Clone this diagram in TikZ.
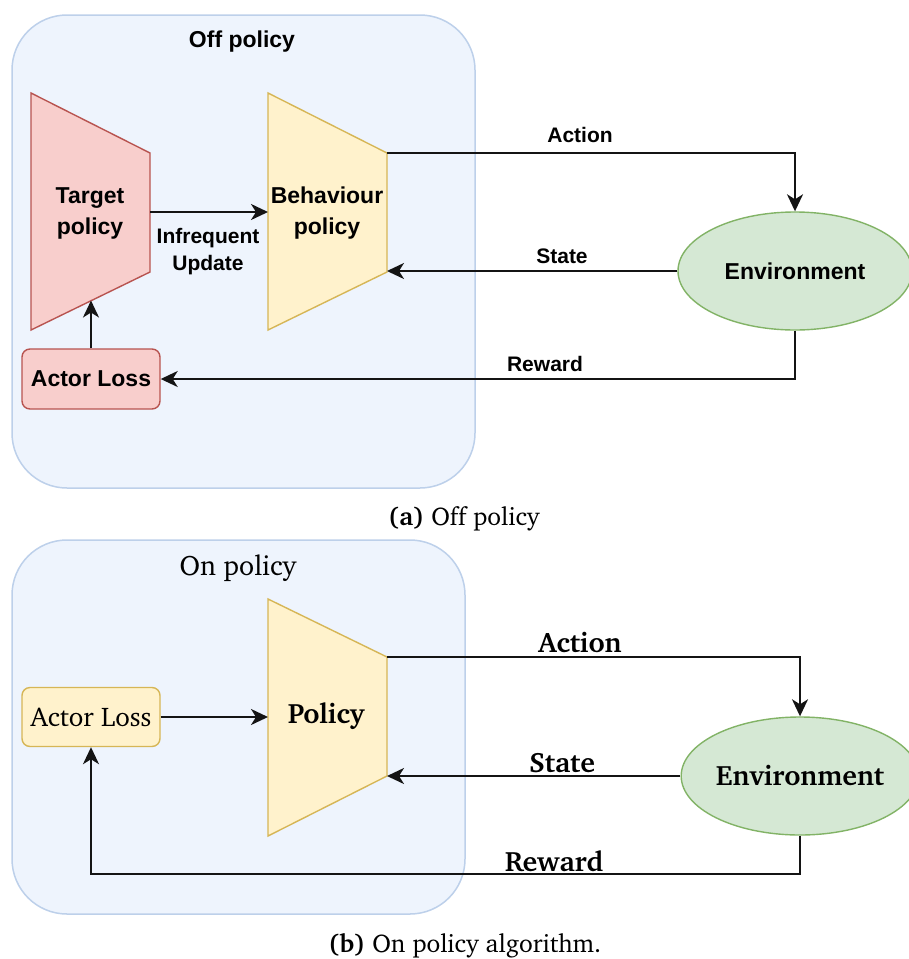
\documentclass[tikz,border=0pt]{standalone}
\usepackage[T1]{fontenc}
\usepackage{fontspec}
\newfontfamily\helv{Liberation Sans}
\newcommand\chr{\fontencoding{T1}\fontfamily{bch}\selectfont}
\usetikzlibrary{shapes.geometric,arrows.meta,calc}

\definecolor{grpfill}{HTML}{EEF4FD}
\definecolor{grpline}{HTML}{BDD0EA}
\definecolor{redfill}{HTML}{F8CECC}
\definecolor{redline}{HTML}{B85450}
\definecolor{yelfill}{HTML}{FFF2CC}
\definecolor{yelline}{HTML}{D6B656}
\definecolor{grnfill}{HTML}{D5E8D4}
\definecolor{grnline}{HTML}{82B366}
\definecolor{wire}{HTML}{141414}

\tikzset{
  group/.style={draw=grpline, fill=grpfill, line width=1.5pt, rounded corners=55pt, inner sep=0pt},
  redshape/.style={draw=redline, fill=redfill, line width=1.4pt},
  yelshape/.style={draw=yelline, fill=yelfill, line width=1.4pt},
  lossbox/.style={rectangle, rounded corners=8pt, minimum width=138pt, line width=1.4pt, inner sep=0pt},
  envnode/.style={ellipse, draw=grnline, fill=grnfill, line width=1.4pt, minimum width=234pt, minimum height=118pt, inner sep=0pt},
  wirestyle/.style={draw=wire, line width=2.1pt, -{Stealth[length=17pt,width=16pt,inset=5pt]}},
  sansbig/.style={font=\helv\bfseries\fontsize{23}{31}\selectfont, align=center, inner sep=0pt},
  sanssmall/.style={font=\helv\bfseries\fontsize{21}{27}\selectfont, align=center, inner sep=0pt},
  serifbold/.style={font=\chr\bfseries\fontsize{28}{32}\selectfont, inner sep=0pt},
  serifreg/.style={font=\chr\fontsize{28}{32}\selectfont, inner sep=0pt},
  captext/.style={font=\chr\fontsize{25.5}{30}\selectfont, inner sep=0pt},
}

\begin{document}
\begin{tikzpicture}[x=1pt, y=-1pt]
\useasboundingbox (0,0) rectangle (909,959);

% ---------------- (a) off-policy ----------------
\node[group, minimum width=463pt, minimum height=473pt] (offgrp) at (243.5,251.5) {};
\node[sansbig] (offtitle) at (242,42) {Off policy};

% target policy trapezoid
\coordinate (tp-nw) at (31,93);
\coordinate (tp-sw) at (31,330);
\coordinate (tp-ne) at (150,153);
\coordinate (tp-se) at (150,272);
\coordinate (tp-e) at (150,212);
\coordinate (tp-s) at (91,300.5);
\draw[redshape] (tp-nw) -- (tp-ne) -- (tp-se) -- (tp-sw) -- cycle;
\node[sansbig] (tptext) at (90,213) {Target\\policy};

% behaviour policy trapezoid
\coordinate (bp-nw) at (268,93);
\coordinate (bp-sw) at (268,330);
\coordinate (bp-ne) at (387,153);
\coordinate (bp-se) at (387,272);
\coordinate (bp-w) at (268,212);
\draw[yelshape] (bp-nw) -- (bp-ne) -- (bp-se) -- (bp-sw) -- cycle;
\node[sansbig] (bptext) at (327,213) {Behaviour\\policy};

% actor loss
\node[lossbox, draw=redline, fill=redfill, minimum height=60pt, sansbig] (loss1) at (91,379) {Actor Loss};

% environment
\node[envnode, sansbig] (env1) at (795,271) {Environment};

% connectors
\draw[wirestyle] (tp-e) -- (bp-w);
\node[sanssmall] (upd) at (208,252) {Infrequent\\Update};
\draw[wirestyle] (loss1.north) -- (tp-s);
\draw[wirestyle] (bp-ne) -| (env1.north);
\node[sanssmall] (act1) at (580,135) {Action};
\draw[wirestyle] (env1.west) -- (env1.west -| bp-se);
\node[sanssmall] (st1) at (562,256) {State};
\draw[wirestyle] (env1.south) |- (loss1.east);
\node[sanssmall] (rw1) at (545,364) {Reward};

\node[captext] (capa) at (464,519) {\bfseries (a)\mdseries\ Off policy};

% ---------------- (b) on-policy ----------------
\node[group, minimum width=453pt, minimum height=374pt] (ongrp) at (238.5,727) {};
\node[serifreg] (ontitle) at (238,568) {On policy};

\coordinate (pp-nw) at (268,599);
\coordinate (pp-sw) at (268,836);
\coordinate (pp-ne) at (387,657);
\coordinate (pp-se) at (387,776);
\coordinate (pp-w) at (268,717);
\draw[yelshape] (pp-nw) -- (pp-ne) -- (pp-se) -- (pp-sw) -- cycle;
\node[serifbold] (pptext) at (326,716) {Policy};

\node[lossbox, draw=yelline, fill=yelfill, minimum height=59pt, serifreg, font=\chr\fontsize{27}{31}\selectfont] (loss2) at (91,717) {Actor Loss};

\node[envnode, serifbold] (env2) at (800,776) {Environment};

\draw[wirestyle] (loss2.east) -- (pp-w);
\draw[wirestyle] (pp-ne) -| (env2.north);
\node[serifbold] (act2) at (580,643) {Action};
\draw[wirestyle] (env2.west) -- (env2.west -| pp-se);
\node[serifbold] (st2) at (562,763) {State};
\coordinate (rwturn) at (800,874);
\draw[wirestyle] (env2.south) -- (rwturn) -| (loss2.south);
\node[serifbold] (rw2) at (554,861) {Reward};

\node[captext] (capb) at (465,946) {\bfseries (b)\mdseries\ On policy algorithm.};
\end{tikzpicture}
\end{document}
